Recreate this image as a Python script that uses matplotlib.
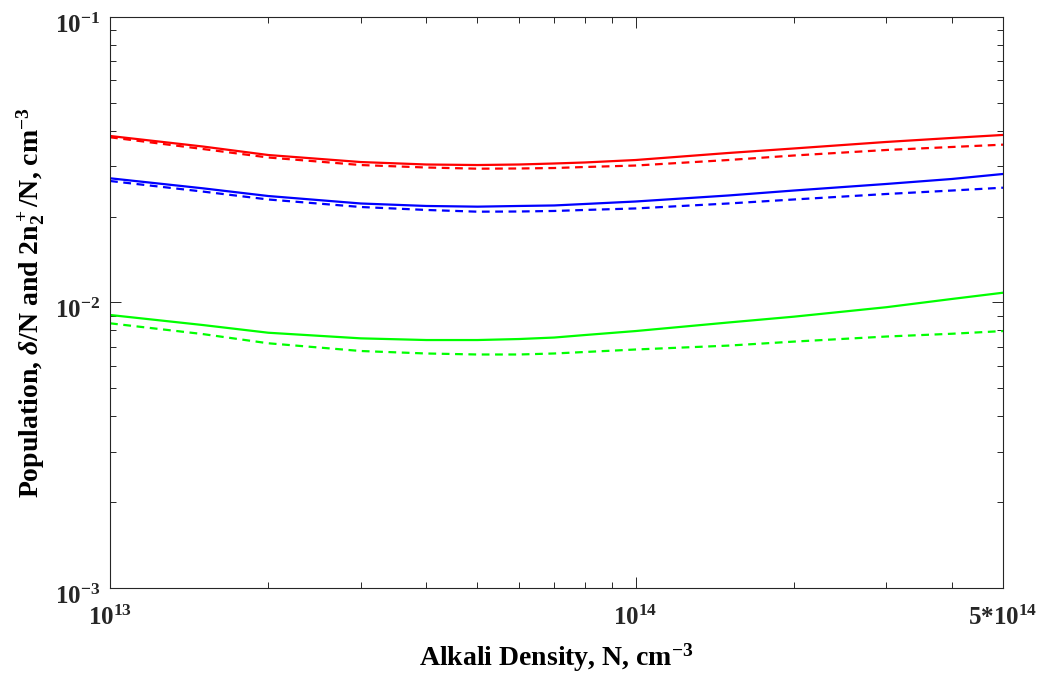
import numpy as np
import matplotlib
matplotlib.use('Agg')
import matplotlib.pyplot as plt
import matplotlib.transforms as mtransforms
from matplotlib.ticker import LogLocator, NullFormatter

plt.rcParams['font.family'] = 'Liberation Serif'
plt.rcParams['font.weight'] = 'bold'
plt.rcParams['mathtext.fontset'] = 'custom'
plt.rcParams['mathtext.rm'] = 'Liberation Serif:bold'
plt.rcParams['mathtext.it'] = 'Liberation Serif:italic:bold'
plt.rcParams['mathtext.bf'] = 'Liberation Serif:bold'

# alkali density, cm^-3
density = np.array([1, 1.5, 2, 3, 4, 5, 6, 7, 8, 10, 15, 20, 30, 40, 50]) * 1e13

# populations (solid / dashed pairs)
red_solid = [0.03830, 0.03519, 0.03285, 0.03104, 0.03043, 0.03030, 0.03043, 0.03068,
             0.03093, 0.03155, 0.03339, 0.03463, 0.03650, 0.03770, 0.03862]
red_dashed = [0.03790, 0.03449, 0.03220, 0.03030, 0.02970, 0.02942, 0.02947, 0.02958,
              0.02982, 0.03018, 0.03155, 0.03272, 0.03421, 0.03505, 0.03571]
blue_solid = [0.02723, 0.02512, 0.02360, 0.02222, 0.02178, 0.02166, 0.02178, 0.02187,
              0.02213, 0.02258, 0.02370, 0.02467, 0.02601, 0.02708, 0.02819]
blue_dashed = [0.02664, 0.02447, 0.02295, 0.02160, 0.02109, 0.02080, 0.02083, 0.02092,
               0.02109, 0.02135, 0.02222, 0.02295, 0.02399, 0.02467, 0.02524]
green_solid = [0.009042, 0.008340, 0.007836, 0.007489, 0.007388, 0.007388, 0.007448, 0.007538,
               0.007691, 0.007943, 0.008509, 0.008919, 0.009627, 0.01029, 0.01082]
green_dashed = [0.008455, 0.007754, 0.007197, 0.006762, 0.006628, 0.006575, 0.006575, 0.006628,
                0.006708, 0.006845, 0.007063, 0.007295, 0.007600, 0.007772, 0.007943]

x_ticks = [1e13, 1e14, 5e14]
x_ticklabels = [r'$10^{13}$', r'$10^{14}$', r'$5$*$10^{14}$']
y_ticks = [1e-3, 1e-2, 1e-1]
y_ticklabels = [r'$10^{-3}$', r'$10^{-2}$', r'$10^{-1}$']

fig = plt.figure(figsize=(10.44, 6.79), dpi=100)
ax = fig.add_axes([0.1054, 0.134, 0.8553, 0.841])

dash = (3.5, 2.5)
ax.plot(density, red_solid, color='#ff0000', lw=1.6)
ax.plot(density, red_dashed, color='#ff0000', lw=1.6, dashes=dash)
ax.plot(density, blue_solid, color='#0000ff', lw=1.6)
ax.plot(density, blue_dashed, color='#0000ff', lw=1.6, dashes=dash)
ax.plot(density, green_solid, color='#00ff00', lw=1.6)
ax.plot(density, green_dashed, color='#00ff00', lw=1.6, dashes=dash)

ax.set_xscale('log')
ax.set_yscale('log')
ax.set_xlim(1e13, 5e14)
ax.set_ylim(1e-3, 1e-1)

ax.set_xticks(x_ticks)
ax.set_xticklabels(x_ticklabels)
ax.set_yticks(y_ticks)
ax.set_yticklabels(y_ticklabels)
ax.xaxis.set_minor_locator(LogLocator(base=10, subs=np.arange(2, 10)))
ax.yaxis.set_minor_locator(LogLocator(base=10, subs=np.arange(2, 10)))
ax.xaxis.set_minor_formatter(NullFormatter())
ax.yaxis.set_minor_formatter(NullFormatter())

axcol = '#262626'
for s in ax.spines.values():
    s.set_color(axcol)
    s.set_linewidth(0.8)
ax.tick_params(which='both', direction='in', top=True, right=True, colors=axcol,
               width=0.7, labelsize=18, labelcolor='#262626')
ax.tick_params(which='major', length=8)
ax.tick_params(which='minor', length=4)
ax.tick_params(axis='x', which='major', pad=13)
ax.tick_params(axis='y', which='major', pad=7)

# matlab puts the y tick labels a bit lower
shift = mtransforms.ScaledTranslation(0, -6 / 100, fig.dpi_scale_trans)
for lab in ax.get_yticklabels():
    lab.set_transform(lab.get_transform() + shift)

ax.set_xlabel(r'Alkali Density, N, cm$^{-3}$', fontsize=20, fontweight='bold', labelpad=8)
ax.set_ylabel(r'Population, $\delta$/N and 2n$_2^+$/N, cm$^{-3}$', fontsize=20,
              fontweight='bold', labelpad=6)

fig.savefig('out.png', dpi=100)
